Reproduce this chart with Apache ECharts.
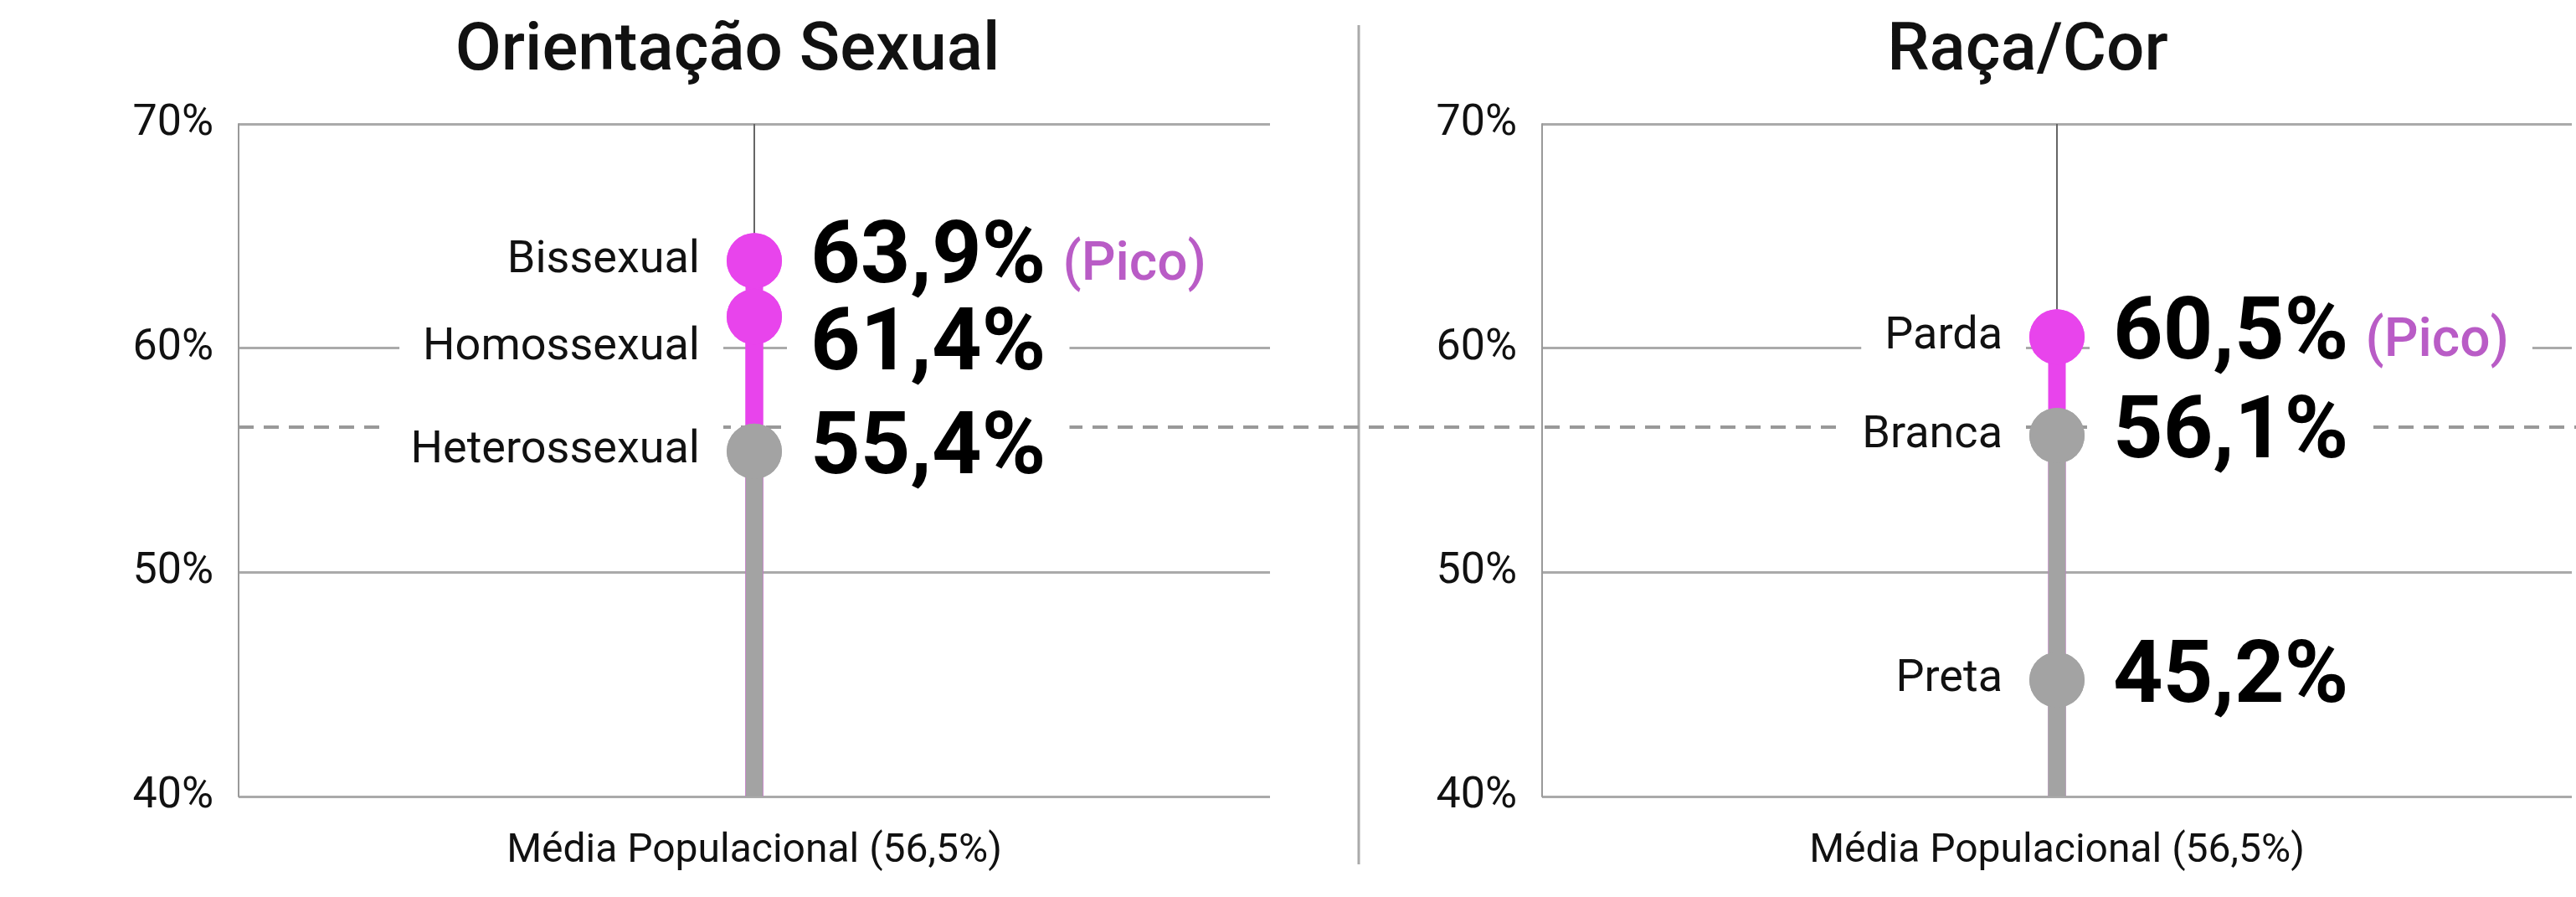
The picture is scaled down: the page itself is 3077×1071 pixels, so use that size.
<!DOCTYPE html>
<html>
<head>
<meta charset="utf-8">
<script src="https://cdn.jsdelivr.net/npm/echarts@6/dist/echarts.min.js"></script>
<style>
  html, body { margin: 0; padding: 0; background: #ffffff; }
  #chart { width: 3077px; height: 1071px; }
</style>
</head>
<body>
<div id="chart"></div>
<script>
// dados
const titulos = ['Orientação Sexual', 'Raça/Cor'];
const orientCategorias = ['Bissexual', 'Homossexual', 'Heterossexual'];
const orientValores = [63.9, 61.4, 55.4];
const racaCategorias = ['Parda', 'Branca', 'Preta'];
const racaValores = [60.5, 56.1, 45.2];
const mediaPopulacional = 56.5;
const eixoLabel = 'Média Populacional (56,5%)';
const yMin = 40;
const yMax = 70;
const yIntervalo = 10;

const ROSA = '#e844ec';
const CINZA = '#a3a3a3';
const PICO = '#b95cc6';
const FONTE = 'Roboto, "Noto Sans", sans-serif';
const GAP_ROTULOS = 104; // distância mínima (px) entre rótulos vizinhos

function fmt(v) {
  return v.toFixed(1).replace('.', ',') + '%';
}

function corDe(v) {
  return v > mediaPopulacional ? ROSA : CINZA;
}

const paineis = [
  { cats: orientCategorias, vals: orientValores },
  { cats: racaCategorias, vals: racaValores },
];

const grids = [
  { left: 285, right: 1560, top: 148, bottom: 120 },
  { left: 1842, right: 5, top: 148, bottom: 120 },
  // grade invisível para a linha tracejada da média, que atravessa tudo
  { left: 285, right: 0, top: 148, bottom: 120 },
];

const xAxes = [0, 1].map(i => ({
  type: 'category',
  gridIndex: i,
  data: [eixoLabel],
  axisLine: { show: false },
  axisTick: { show: false },
  axisLabel: { fontSize: 48, color: '#111', fontFamily: FONTE, margin: 42 },
}));
xAxes.push({ type: 'category', gridIndex: 2, data: [''], show: false });

const yAxes = [0, 1].map(i => ({
  type: 'value',
  gridIndex: i,
  min: yMin,
  max: yMax,
  interval: yIntervalo,
  axisLine: { show: true, lineStyle: { color: '#999', width: 2 } },
  axisTick: { show: false },
  axisLabel: {
    formatter: '{value}%',
    fontSize: 52,
    color: '#111',
    fontFamily: FONTE,
    margin: 30,
  },
  splitLine: { lineStyle: { color: '#aaa', width: 3 } },
}));
yAxes.push({ type: 'value', gridIndex: 2, min: yMin, max: yMax, show: false });

const series = [];
const seriesNomes = [];
const seriesValores = [];

// linha tracejada da média populacional
series.push({
  type: 'line',
  xAxisIndex: 2,
  yAxisIndex: 2,
  data: [],
  z: 1,
  markLine: {
    z: 1,
    silent: true,
    symbol: 'none',
    label: { show: false },
    lineStyle: { color: '#999', width: 4, type: [18, 12] },
    data: [{ yAxis: mediaPopulacional }],
  },
});

paineis.forEach((p, i) => {
  const maxVal = Math.max(...p.vals);

  // linha fina central
  series.push({
    type: 'line',
    xAxisIndex: i,
    yAxisIndex: i,
    data: [],
    z: 1,
    markLine: {
      z: 1,
      silent: true,
      symbol: 'none',
      label: { show: false },
      lineStyle: { color: '#666', width: 2, type: 'solid' },
      data: [{ xAxis: 0 }],
    },
  });

  // hastes: maiores primeiro, menores por cima
  const ordem = p.vals.map((v, k) => k).sort((a, b) => p.vals[b] - p.vals[a]);
  ordem.forEach(k => {
    series.push({
      type: 'bar',
      xAxisIndex: i,
      yAxisIndex: i,
      barWidth: 21,
      barGap: '-100%',
      z: 2,
      itemStyle: { color: corDe(p.vals[k]) },
      data: [p.vals[k]],
    });
  });

  // círculos com nomes à esquerda
  const sNomes = {
    type: 'scatter',
    xAxisIndex: i,
    yAxisIndex: i,
    symbolSize: 66,
    z: 3,
    itemStyle: { opacity: 1 },
    data: p.vals.map((v, k) => ({
      value: [0, v],
      name: p.cats[k],
      itemStyle: { color: corDe(v), opacity: 1 },
    })),
    label: {
      show: true,
      position: 'left',
      distance: 4,
      formatter: d => d.name,
      fontSize: 54,
      lineHeight: 60,
      color: '#111',
      fontFamily: FONTE,
      backgroundColor: '#ffffff',
      padding: [2, 28],
    },
  };

  // círculos com valores à direita
  const sValores = {
    type: 'scatter',
    xAxisIndex: i,
    yAxisIndex: i,
    symbolSize: 66,
    z: 3,
    itemStyle: { opacity: 1 },
    data: p.vals.map(v => ({
      value: [0, v],
      itemStyle: { color: corDe(v), opacity: 1 },
    })),
    label: {
      show: true,
      position: 'right',
      distance: 6,
      formatter: d => {
        const v = d.value[1];
        return v === maxVal ? '{v|' + fmt(v) + '}{p|(Pico)}' : '{v|' + fmt(v) + '}';
      },
      backgroundColor: '#ffffff',
      padding: [0, 28],
      rich: {
        v: { fontSize: 104, fontWeight: 'bold', color: '#000', fontFamily: FONTE, lineHeight: 92 },
        p: { fontSize: 64, fontWeight: 500, color: PICO, fontFamily: FONTE, lineHeight: 92, padding: [14, 0, 0, 20] },
      },
    },
  };

  seriesNomes.push(sNomes);
  seriesValores.push(sValores);
  series.push(sNomes, sValores);
});

const chart = echarts.init(document.getElementById('chart'));
const option = {
  backgroundColor: '#ffffff',
  animation: false,
  title: [
    { text: titulos[0], left: 864, top: 18, textAlign: 'center',
      textStyle: { fontSize: 80, fontWeight: 500, color: '#111', fontFamily: FONTE } },
    { text: titulos[1], left: 2417, top: 18, textAlign: 'center',
      textStyle: { fontSize: 80, fontWeight: 500, color: '#111', fontFamily: FONTE } },
  ],
  grid: grids,
  xAxis: xAxes,
  yAxis: yAxes,
  series: series,
  graphic: [
    {
      type: 'line',
      shape: { x1: 1623, y1: 30, x2: 1623, y2: 1032 },
      style: { stroke: '#aaa', lineWidth: 3 },
      silent: true,
    },
  ],
};
chart.setOption(option);

// afasta rótulos que ficariam sobrepostos (valores muito próximos)
paineis.forEach((p, i) => {
  const ordem = p.vals.map((v, k) => k).sort((a, b) => p.vals[b] - p.vals[a]);
  let anterior = -Infinity;
  ordem.forEach(k => {
    const y = chart.convertToPixel({ yAxisIndex: i }, p.vals[k]);
    const yRotulo = Math.max(y, anterior + GAP_ROTULOS);
    const dy = yRotulo - y;
    anterior = yRotulo;
    seriesNomes[i].data[k].label = { offset: [0, dy] };
    seriesValores[i].data[k].label = { offset: [0, dy] };
  });
});
chart.setOption(option);
</script>
</body>
</html>
